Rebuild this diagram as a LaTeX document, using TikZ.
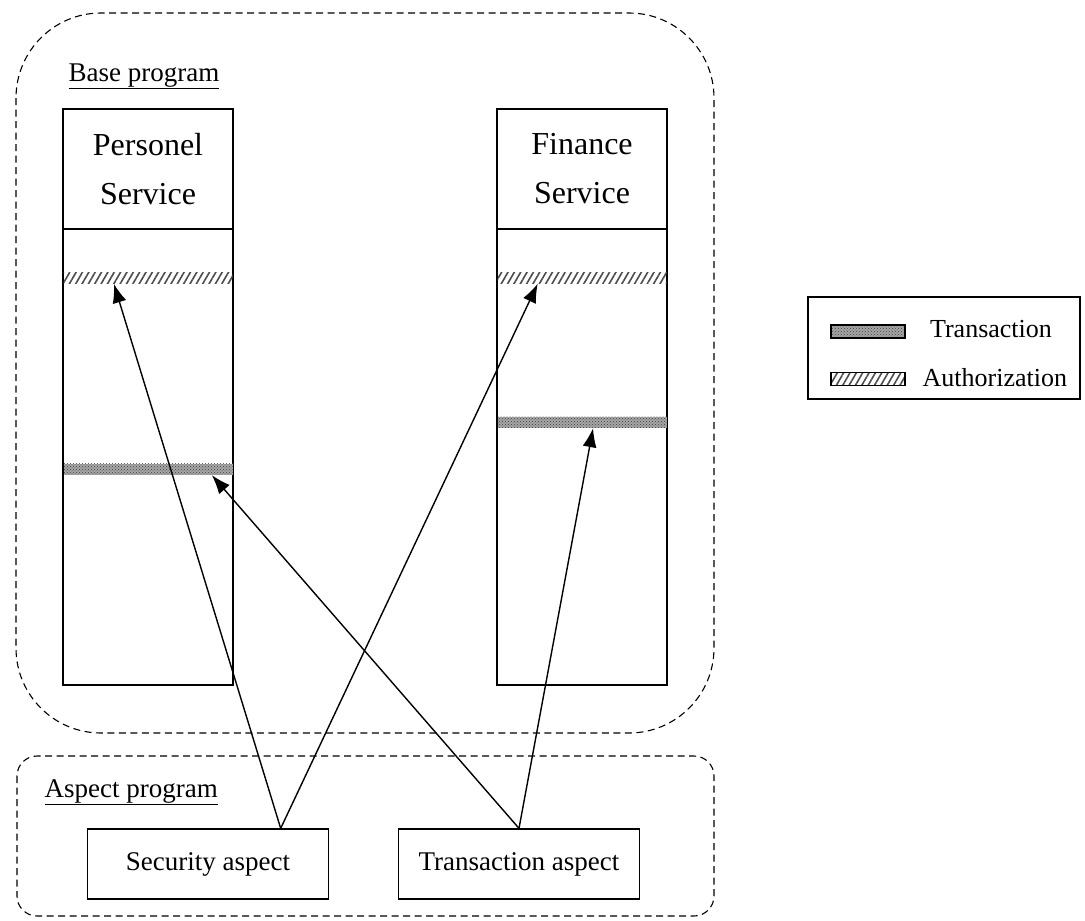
\documentclass[tikz,border=0pt]{standalone}
\usepackage{fontspec}
\setmainfont{Liberation Serif}
\usetikzlibrary{patterns, patterns.meta, arrows.meta, positioning, calc}

\begin{document}
\begin{tikzpicture}[
        x=1pt, y=-1pt,
        line width=1.3pt,
        program/.style={draw, line width=1.1pt, dash pattern=on 7pt off 4.5pt},
        service/.style={
            draw, minimum width=170pt, minimum height=120pt, inner sep=0pt,
            align=center, font=\fontsize{32}{49}\selectfont
        },
        column/.style={draw, minimum width=170pt, minimum height=456pt, inner sep=0pt},
        hatched/.style={pattern={Lines[angle=60, distance=5.5pt, line width=1.6pt]}, pattern color=black!70},
        dotted fill/.style={preaction={fill=gray!70}, pattern=crosshatch dots, pattern color=black!75},
        authstrip/.style={hatched, minimum width=169pt, minimum height=11pt, inner sep=0pt},
        transstrip/.style={dotted fill, minimum width=169pt, minimum height=11pt, inner sep=0pt},
        aspect/.style={
            draw, minimum width=241pt, minimum height=70pt, inner sep=0pt,
            font=\fontsize{27}{30}\selectfont
        },
        swatch/.style={draw, minimum width=74pt, minimum height=13pt, inner sep=0pt},
        label/.style={font=\fontsize{27}{30}\selectfont, inner sep=0pt},
        link/.style={-{Latex[length=19pt, width=14pt]}, line width=1.4pt}
    ]

        \useasboundingbox (0,0) rectangle (1085,921);

        % Base and aspect program areas
        \draw[program, rounded corners=85pt] (16,13) rectangle (714,733);
        \draw[program, rounded corners=20pt] (17,756) rectangle (714,916);
        \node[label, anchor=base west] (baselbl) at (68,81) {\underline{Base program}};
        \node[label, anchor=base west] (aspectlbl) at (44,797) {\underline{Aspect program}};

        % Service columns
        \node[column] (colP) at (148,457) {};
        \node[column] (colF) at (582,457) {};

        % Join points on the columns
        \node[authstrip] (authP) at (148,277.5) {};
        \node[authstrip] (authF) at (582,277.5) {};
        \node[transstrip] (transP) at (148,469) {};
        \node[transstrip] (transF) at (582,422) {};
        \draw (colP.north west) rectangle (colP.south east);
        \draw (colF.north west) rectangle (colF.south east);

        \node[service] (persP) at (148,169) {Personel\\Service};
        \node[service] (finF) at (582,169) {Finance\\Service};

        % Aspects
        \node[aspect] (secA) at (208,864) {Security aspect};
        \node[aspect] (trA) at (519,864) {Transaction aspect};

        % Advice arrows
        \coordinate (secTop) at ($(secA.north west)!0.8!(secA.north east)$);
        \coordinate (trTop) at (trA.north);
        \draw[link] (secTop) -- ($(authP.south west)!0.3!(authP.south east)$);
        \draw[link] (secTop) -- ($(authF.south west)!0.24!(authF.south east)$);
        \draw[link] (trTop) -- ($(transP.south west)!0.875!(transP.south east)$);
        \draw[link] (trTop) -- ($(transF.south west)!0.565!(transF.south east)$);

        % Legend
        \node[draw, minimum width=272pt, minimum height=102pt, inner sep=0pt] (legend) at (944,348) {};
        \node[swatch, dotted fill] (swT) at (868,331.5) {};
        \node[swatch, hatched] (swA) at (868,379) {};
        \node[label, font=\fontsize{26}{30}\selectfont] (lgT) at (991,329) {Transaction};
        \node[label, font=\fontsize{26}{30}\selectfont, anchor=west] (lgA) at (922,378) {Authorization};

    \end{tikzpicture}
\end{document}
